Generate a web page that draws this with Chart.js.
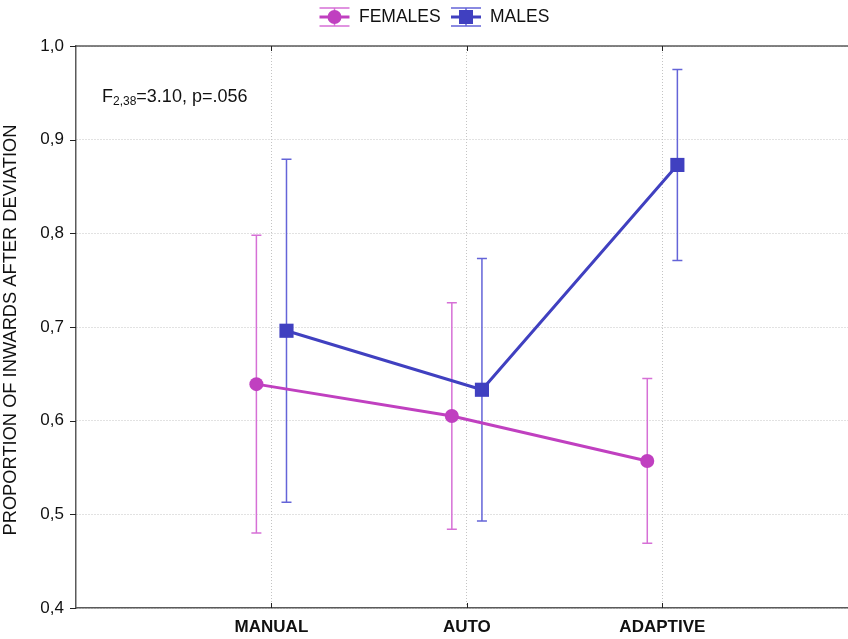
<!DOCTYPE html>
<html>
<head>
<meta charset="utf-8">
<script src="https://cdn.jsdelivr.net/npm/chart.js@4.4.1/dist/chart.umd.min.js"></script>
<style>
  html, body { margin: 0; padding: 0; background: #fff; }
  #wrap { width: 848px; height: 639px; }
</style>
</head>
<body>
<div id="wrap"><canvas id="chart"></canvas></div>
<script>
// data (means and half-width of the error bars)
const categories = ['MANUAL', 'AUTO', 'ADAPTIVE'];
const femalesMean = [0.639, 0.605, 0.557];
const femalesErr = [0.159, 0.121, 0.088];
const malesMean = [0.696, 0.633, 0.873];
const malesErr = [0.183, 0.140, 0.102];
const yTicks = [0.4, 0.5, 0.6, 0.7, 0.8, 0.9, 1.0];

const FONT = '"Liberation Sans", Arial, sans-serif';
const femaleColor = 'rgb(192, 64, 192)';
const femaleBar = 'rgb(214, 112, 214)';
const maleColor = 'rgb(64, 64, 192)';
const maleBar = 'rgb(100, 100, 216)';
const axisColor = '#5a5a5a';

// the two groups sit a bit left / right of each category
const spread = 0.077;
const toPoints = (means, errs, shift) =>
    means.map((m, i) => ({ x: i + 1 + shift, y: m, err: errs[i] }));

const barColors = [femaleBar, maleBar];

// error bars, drawn before the markers
const errorBars = {
    id: 'errorBars',
    beforeDatasetsDraw(chart) {
        const ctx = chart.ctx;
        const y = chart.scales.y;
        chart.data.datasets.forEach((ds, di) => {
            const meta = chart.getDatasetMeta(di);
            ctx.save();
            ctx.strokeStyle = barColors[di];
            ctx.lineWidth = 1.5;
            meta.data.forEach((pt, i) => {
                const d = ds.data[i];
                const top = y.getPixelForValue(d.y + d.err);
                const bot = y.getPixelForValue(d.y - d.err);
                ctx.beginPath();
                ctx.moveTo(pt.x, top); ctx.lineTo(pt.x, bot);
                ctx.moveTo(pt.x - 5, top); ctx.lineTo(pt.x + 5, top);
                ctx.moveTo(pt.x - 5, bot); ctx.lineTo(pt.x + 5, bot);
                ctx.stroke();
            });
            ctx.restore();
        });
    }
};

function legendSymbol(ctx, cx, cy, color, bar, square) {
    ctx.save();
    ctx.strokeStyle = bar;
    ctx.lineWidth = 1.5;
    ctx.beginPath();
    ctx.moveTo(cx - 15, cy - 9); ctx.lineTo(cx + 15, cy - 9);
    ctx.moveTo(cx - 15, cy + 9); ctx.lineTo(cx + 15, cy + 9);
    ctx.moveTo(cx, cy - 9); ctx.lineTo(cx, cy + 9);
    ctx.stroke();
    ctx.strokeStyle = color;
    ctx.lineWidth = 3;
    ctx.beginPath();
    ctx.moveTo(cx - 15, cy); ctx.lineTo(cx + 15, cy);
    ctx.stroke();
    ctx.fillStyle = color;
    ctx.beginPath();
    if (square) ctx.rect(cx - 7, cy - 7, 14, 14);
    else ctx.arc(cx, cy, 7, 0, Math.PI * 2);
    ctx.fill();
    ctx.restore();
}

// frame ticks, legend, statistic and y title
const decorations = {
    id: 'decorations',
    afterDraw(chart) {
        const ctx = chart.ctx;
        const a = chart.chartArea;
        const x = chart.scales.x, y = chart.scales.y;
        ctx.save();
        ctx.strokeStyle = axisColor;
        ctx.lineWidth = 1.5;
        ctx.beginPath();
        ctx.moveTo(a.left, a.top); ctx.lineTo(a.right, a.top);
        ctx.stroke();
        ctx.strokeStyle = '#222';
        ctx.lineWidth = 1;
        ctx.beginPath();
        yTicks.forEach(v => {
            const py = Math.round(y.getPixelForValue(v)) + 0.5;
            ctx.moveTo(a.left - 6, py); ctx.lineTo(a.left, py);
        });
        [1, 2, 3].forEach(v => {
            const px = Math.round(x.getPixelForValue(v)) + 0.5;
            ctx.moveTo(px, a.bottom); ctx.lineTo(px, a.bottom - 5);
            ctx.moveTo(px, a.top); ctx.lineTo(px, a.top + 5);
        });
        ctx.stroke();

        // legend
        ctx.fillStyle = '#111';
        ctx.font = '17.5px ' + FONT;
        ctx.textBaseline = 'middle';
        ctx.textAlign = 'left';
        legendSymbol(ctx, 334.5, 17, femaleColor, femaleBar, false);
        ctx.fillText('FEMALES', 359, 17);
        legendSymbol(ctx, 466, 17, maleColor, maleBar, true);
        ctx.fillText('MALES', 490, 17);

        // statistic
        ctx.textBaseline = 'alphabetic';
        let tx = 102;
        ctx.font = '18px ' + FONT;
        ctx.fillText('F', tx, 102);
        tx += ctx.measureText('F').width;
        ctx.font = '12px ' + FONT;
        ctx.fillText('2,38', tx, 105);
        tx += ctx.measureText('2,38').width;
        ctx.font = '18px ' + FONT;
        ctx.fillText('=3.10, p=.056', tx, 102);

        // y axis title
        ctx.translate(11, 330);
        ctx.rotate(-Math.PI / 2);
        ctx.textAlign = 'center';
        ctx.textBaseline = 'middle';
        ctx.font = '18.3px ' + FONT;
        ctx.fillText('PROPORTION OF INWARDS AFTER DEVIATION', 0, 0);
        ctx.restore();
    }
};

const ctx = document.getElementById('chart').getContext('2d');
const chart = new Chart(ctx, {
    type: 'scatter',
    data: {
        datasets: [{
            label: 'FEMALES',
            data: toPoints(femalesMean, femalesErr, -spread),
            showLine: true,
            borderColor: femaleColor,
            backgroundColor: femaleColor,
            borderWidth: 3,
            pointStyle: 'circle',
            pointRadius: 7,
            pointBorderWidth: 0,
            pointHoverRadius: 7
        }, {
            label: 'MALES',
            data: toPoints(malesMean, malesErr, spread),
            showLine: true,
            borderColor: maleColor,
            backgroundColor: maleColor,
            borderWidth: 3,
            pointStyle: 'rect',
            pointRadius: 10,
            pointBorderWidth: 0,
            pointHoverRadius: 10
        }]
    },
    options: {
        responsive: true,
        maintainAspectRatio: false,
        animation: false,
        layout: { autoPadding: false, padding: { top: 46, right: 0, left: 0, bottom: 0 } },
        plugins: {
            legend: { display: false },
            tooltip: { enabled: false }
        },
        scales: {
            x: {
                type: 'linear',
                min: 0,
                max: 3.95,
                afterBuildTicks: scale => {
                    scale.ticks = categories.map((c, i) => ({ value: i + 1 }));
                },
                afterFit: scale => { scale.height = 31; },
                ticks: {
                    callback: v => categories[v - 1] || '',
                    color: '#111',
                    font: { family: FONT, size: 17, weight: 'bold' },
                    padding: 9,
                    maxRotation: 0
                },
                grid: { color: '#c4c4c4', drawTicks: false },
                border: { color: axisColor, width: 1.5, dash: [1, 2] }
            },
            y: {
                min: 0.4,
                max: 1.0,
                afterBuildTicks: scale => {
                    scale.ticks = yTicks.map(v => ({ value: v }));
                },
                afterFit: scale => { scale.width = 76; },
                ticks: {
                    callback: v => v.toFixed(1).replace('.', ','),
                    color: '#111',
                    font: { family: FONT, size: 17 },
                    padding: 12
                },
                grid: { color: '#c4c4c4', drawTicks: false },
                border: { color: axisColor, width: 1.5, dash: [1, 2] }
            }
        }
    },
    plugins: [errorBars, decorations]
});
</script>
</body>
</html>
